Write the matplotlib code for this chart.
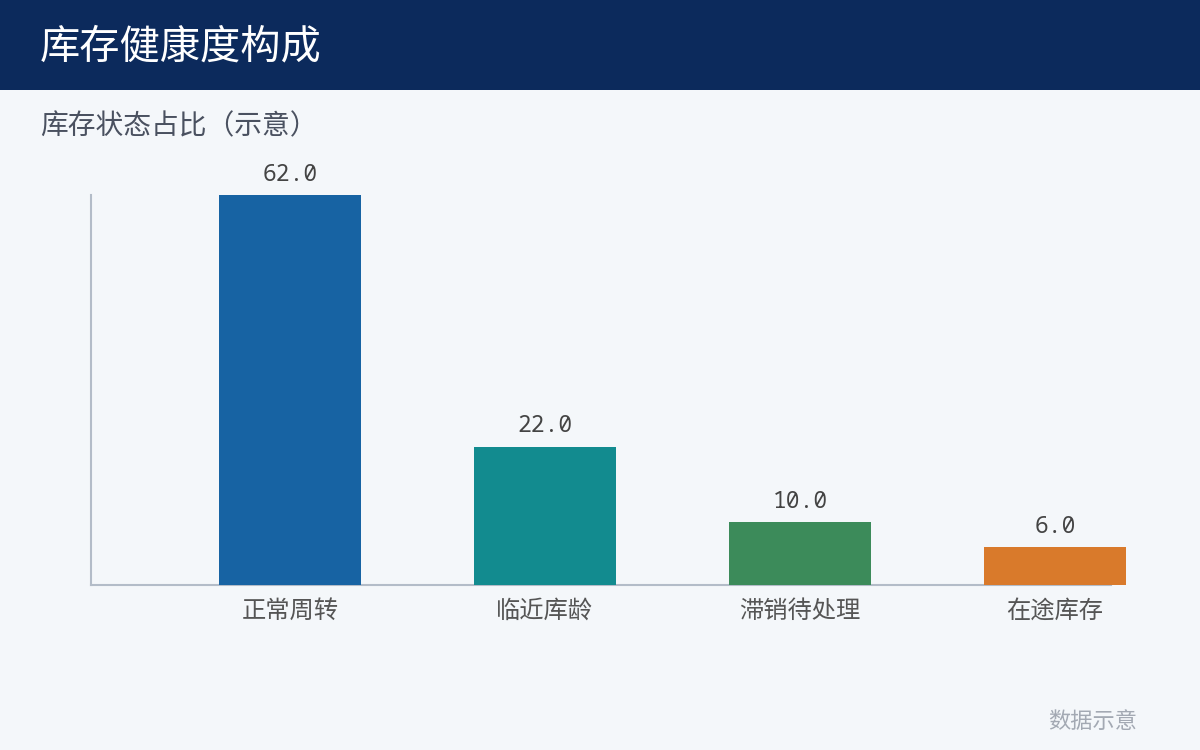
import matplotlib
matplotlib.use("Agg")
import matplotlib.pyplot as plt
from matplotlib.patches import Rectangle

plt.rcParams['font.family'] = ['Noto Sans CJK SC', 'DejaVu Sans']

categories = ["正常周转", "临近库龄", "滞销待处理", "在途库存"]
values = [62.0, 22.0, 10.0, 6.0]
colors = ["#1763A3", "#128B8F", "#3C8B5A", "#D97A2B"]

title = "库存健康度构成"
subtitle = "库存状态占比（示意）"
footer = "数据示意"

BG = "#F4F7FA"
NAVY = "#0C2A5C"
SPINE = "#B3BCC8"

fig = plt.figure(figsize=(12, 7.5), dpi=100, facecolor=BG)

fig.patches.append(Rectangle((0, 1 - 90 / 750), 1, 90 / 750, transform=fig.transFigure,
                             facecolor=NAVY, edgecolor="none", zorder=0))
fig.text(40 / 1200, 1 - 47 / 750, title, color="white", fontsize=29, va="center", ha="left")
fig.text(40 / 1200, 1 - 126 / 750, subtitle, color="#4A5160", fontsize=20, va="center", ha="left")
fig.text(1137 / 1200, 1 - 721 / 750, footer, color="#A3A9B3", fontsize=16, va="center", ha="right")

ax = fig.add_axes([91 / 1200, 165 / 750, 1020 / 1200, 390 / 750])
ax.set_facecolor(BG)
x = list(range(len(categories)))
width = 0.56
bars = ax.bar(x, values, width=width, align="edge", color=colors, zorder=3, clip_on=False)
ax.set_xlim(-0.5, 3.5)
ax.set_ylim(0, 62)

for b, v in zip(bars, values):
    ax.annotate(f"{v:.1f}", (b.get_x() + b.get_width() / 2, v), xytext=(0, 6),
                textcoords="offset points", ha="center", va="bottom",
                fontsize=16.5, color="#444444", family=["Noto Sans Mono", "DejaVu Sans"])

ax.set_xticks([i + width / 2 for i in x])
ax.set_xticklabels(categories, fontsize=17.5, color="#555555")
ax.tick_params(axis="x", length=0, pad=9)
ax.set_yticks([])
for s in ["top", "right"]:
    ax.spines[s].set_visible(False)
for s in ["left", "bottom"]:
    ax.spines[s].set_color(SPINE)
    ax.spines[s].set_linewidth(1.5)

fig.savefig("out.png", dpi=100, facecolor=BG)
